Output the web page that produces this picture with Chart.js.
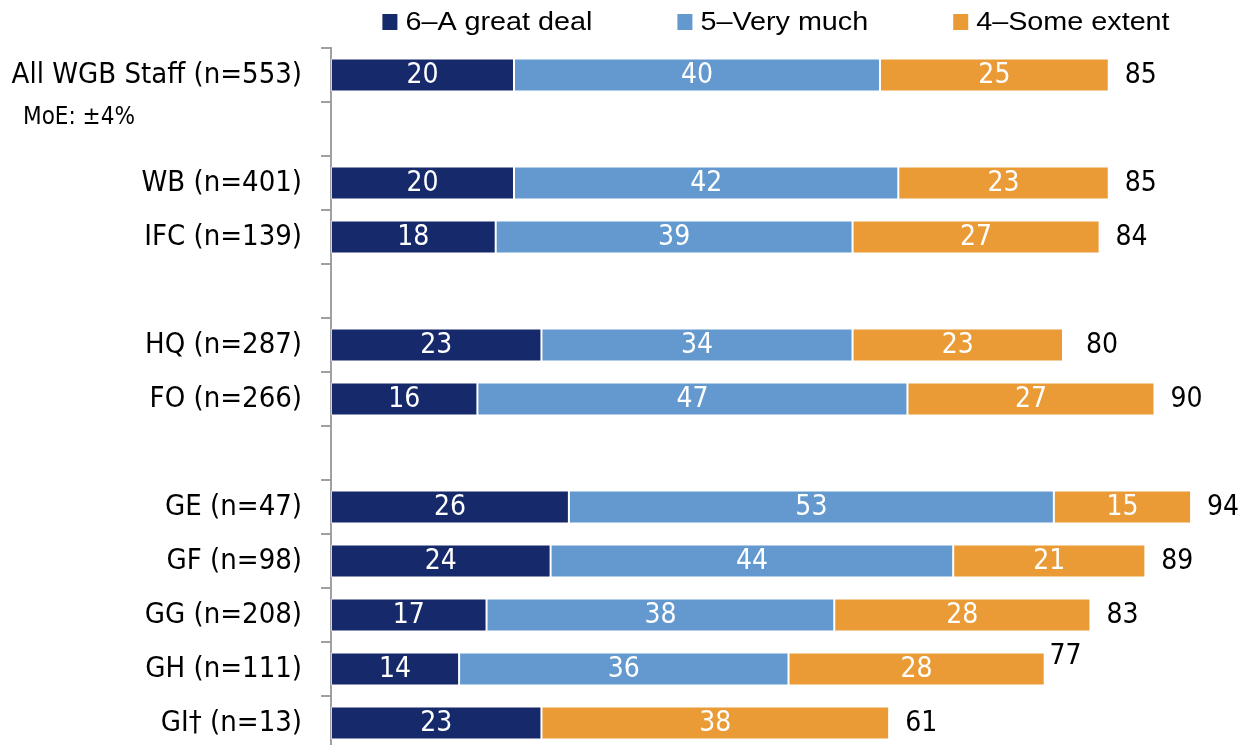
<!DOCTYPE html>
<html>
<head>
<meta charset="utf-8">
<script src="https://cdn.jsdelivr.net/npm/chart.js@4/dist/chart.umd.min.js"></script>
<style>
html,body{margin:0;padding:0;overflow:hidden;background:#fff;width:1239px;height:745px}
#wrap{position:absolute;left:0;top:0;width:1250px;height:760px}
</style>
</head>
<body>
<div id="wrap"><canvas id="c" width="1250" height="760"></canvas></div>
<script>
// ---- data ----
const categories = ['All WGB Staff (n=553)', '', 'WB (n=401)', 'IFC (n=139)', '', 'HQ (n=287)', 'FO (n=266)', '', 'GE (n=47)', 'GF (n=98)', 'GG (n=208)', 'GH (n=111)', 'GI\u2020 (n=13)'];
const greatDeal  = [20, null, 20, 18, null, 23, 16, null, 26, 24, 17, 14, 23];
const veryMuch   = [40, null, 42, 39, null, 34, 47, null, 53, 44, 38, 36, null];
const someExtent = [25, null, 23, 27, null, 23, 27, null, 15, 21, 28, 28, 38];
const totals     = [85, null, 85, 84, null, 80, 90, null, 94, 89, 83, 77, 61];
const seriesNames = ['6\u2013A great deal', '5\u2013Very much', '4\u2013Some extent'];
const moeNote = 'MoE: \u00b14%';
const xRange = [0, 100];

// ---- style ----
const colors = ['#16296b', '#6399ce', '#ea9b36'];
const totalNudge = {5: [7, 0], 11: [-2, -13]};
const fam = '"DejaVu Sans Condensed", "DejaVu Sans", sans-serif';
const catFont = '28px ' + fam;

const labelPlugin = {
  id: 'customLabels',
  afterDatasetsDraw(chart) {
    const ctx = chart.ctx;
    const xs = chart.scales.x, ys = chart.scales.y;
    ctx.save();
    ctx.font = catFont;
    ctx.textBaseline = 'middle';
    ctx.textAlign = 'center';
    ctx.fillStyle = '#ffffff';
    chart.data.datasets.forEach((ds, di) => {
      const meta = chart.getDatasetMeta(di);
      meta.data.forEach((bar, i) => {
        const v = ds.data[i];
        if (v == null) return;
        const p = bar.getProps(['x', 'base', 'y'], true);
        ctx.fillText(String(v), (p.x + p.base) / 2, p.y + 1);
      });
    });
    ctx.fillStyle = '#000000';
    ctx.textAlign = 'left';
    totals.forEach((t, i) => {
      if (t == null) return;
      const n = totalNudge[i] || [0, 0];
      ctx.fillText(String(t), xs.getPixelForValue(t) + 16 + n[0], ys.getPixelForValue(i) + 1 + n[1]);
    });
    // MoE note
    ctx.font = '24px ' + fam;
    ctx.fillText(moeNote, 23, ys.getPixelForValue(1) - 11);
    ctx.restore();
  },
  afterDraw(chart) {
    // legend
    const ctx = chart.ctx;
    ctx.save();
    const stretch = 1.15;
    ctx.font = '25px "Liberation Sans", Arial, sans-serif';
    ctx.textBaseline = 'middle';
    ctx.textAlign = 'left';
    const box = 15, boxGap = 8, itemGap = 85;
    const widths = seriesNames.map(s => ctx.measureText(s).width * stretch);
    let total = 0;
    widths.forEach((w, i) => { total += box + boxGap + w + (i < widths.length - 1 ? itemGap : 0); });
    let x = 776 - total / 2;
    const cy = 22;
    seriesNames.forEach((s, i) => {
      ctx.fillStyle = colors[i];
      ctx.fillRect(x, cy - 8, box, 16);
      ctx.fillStyle = '#000';
      ctx.save();
      ctx.translate(x + box + boxGap, cy + 1);
      ctx.scale(stretch, 1);
      ctx.fillText(s, 0, 0);
      ctx.restore();
      x += box + boxGap + widths[i] + itemGap;
    });
    ctx.restore();
  }
};

const mkDs = (label, data, color) => ({
  label, data, backgroundColor: color,
  borderColor: 'rgba(255,255,255,0.55)', borderWidth: 1, borderSkipped: false,
  categoryPercentage: 1.0, barPercentage: 0.61
});

new Chart(document.getElementById('c'), {
  type: 'bar',
  data: {
    labels: categories,
    datasets: [
      mkDs(seriesNames[0], greatDeal, colors[0]),
      mkDs(seriesNames[1], veryMuch, colors[1]),
      mkDs(seriesNames[2], someExtent, colors[2])
    ]
  },
  options: {
    indexAxis: 'y',
    responsive: false,
    animation: false,
    devicePixelRatio: 1,
    layout: {padding: {left: 0, right: 4, top: 48, bottom: 10}},
    plugins: {legend: {display: false}, tooltip: {enabled: false}},
    scales: {
      x: {stacked: true, display: false, min: xRange[0], max: xRange[1]},
      y: {
        stacked: true,
        afterFit(scale) { scale.width = 331; scale.paddingTop = 0; scale.paddingBottom = 0; },
        border: {display: true, color: '#a0a0a0', width: 2},
        grid: {display: true, drawOnChartArea: false, drawTicks: true, tickLength: 10, color: '#a0a0a0', lineWidth: 2, offset: true},
        ticks: {color: '#000', padding: 19, font: {family: fam, size: 29}}
      }
    }
  },
  plugins: [labelPlugin]
});
</script>
</body>
</html>
